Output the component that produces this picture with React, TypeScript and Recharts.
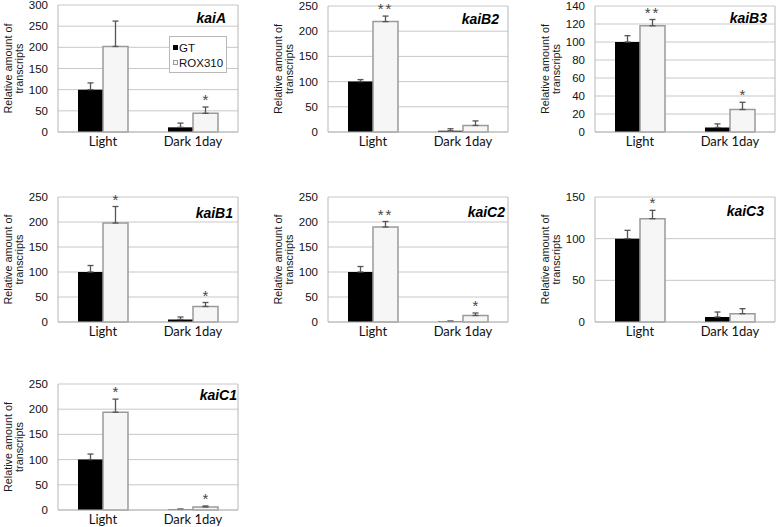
import React from "react";
import { BarChart, Bar, XAxis, YAxis, CartesianGrid, ErrorBar, LabelList } from "recharts";

// ---------- data ----------
const categories = ["Light", "Dark 1day"];
const genes = ["kaiA", "kaiB2", "kaiB3", "kaiB1", "kaiC2", "kaiC3", "kaiC1"];
const seriesNames = ["GT", "ROX310"];
const gtValues = [[100, 11], [100, 2.5], [100, 5], [100, 5], [100, 1], [100, 6], [100, 1]];
const gtErrors = [[16, 10], [4, 4], [7, 4], [13, 5], [11, 1], [10, 6], [11, 1]];
const roxValues = [[202, 44], [219, 13], [118, 25], [198, 31], [190, 13], [124, 10], [194, 6]];
const roxErrors = [[60, 15], [11, 9], [7, 8], [33, 8], [11, 5], [10, 6], [26, 2]];
const roxMarks = [["", "*"], ["**", ""], ["**", "*"], ["*", "*"], ["**", "*"], ["*", ""], ["*", "*"]];
const yTicks = [
  [0, 50, 100, 150, 200, 250, 300],
  [0, 50, 100, 150, 200, 250],
  [0, 20, 40, 60, 80, 100, 120, 140],
  [0, 50, 100, 150, 200, 250],
  [0, 50, 100, 150, 200, 250],
  [0, 50, 100, 150],
  [0, 50, 100, 150, 200, 250],
];
const yAxisLabel = ["Relative amount of", "transcripts"];

// ---------- layout ----------
const layout = [
  { left: 58, top: 5, h: 127, tx: 12, ty: 13 },
  { left: 328, top: 6, h: 126, tx: 9, ty: 13 },
  { left: 595, top: 6, h: 126, tx: 8, ty: 12 },
  { left: 58, top: 197, h: 125, tx: 5, ty: 16 },
  { left: 328, top: 197, h: 125, tx: 3, ty: 15 },
  { left: 595, top: 197, h: 125, tx: 11, ty: 14 },
  { left: 58, top: 384, h: 126, tx: 1, ty: 11 },
];
const PLOT_W = 180;
const AXIS_W = 58;
const GRID = "#c8c8c8";
const AXIS = "#b8b8b8";
const ERR = "#555";
const SANS = "'Liberation Sans', Arial, sans-serif";

function YLabel(props: any) {
  const vb = props.viewBox || {};
  const cy = vb.y + vb.height / 2;
  const right = vb.x + vb.width;
  const xs = [right - 50, right - 39];
  return (
    <g>
      {yAxisLabel.map((t, k) => (
        <text
          key={k}
          x={xs[k]}
          y={cy}
          transform={`rotate(-90, ${xs[k]}, ${cy})`}
          textAnchor="middle"
          dominantBaseline="central"
          fontFamily={SANS}
          fontSize={10.8}
          fill="#1a1a1a"
        >
          {t}
        </text>
      ))}
    </g>
  );
}

function Panel({ i }: { i: number }) {
  const L = layout[i];
  const data = categories.map((c, j) => ({
    category: c,
    gt: gtValues[i][j],
    gtErr: [0, gtErrors[i][j]],
    rox: roxValues[i][j],
    roxErr: [0, roxErrors[i][j]],
    mark: roxMarks[i][j],
  }));
  const ticks = yTicks[i];
  const yMax = ticks[ticks.length - 1];

  const renderStar = (p: any) => {
    const { x, y, width, height, value, index } = p;
    if (!value) return null;
    const d = data[index];
    const errPx = (roxErrors[i][index] / d.rox) * Number(height);
    const cx = Number(x) + Number(width) / 2;
    const top = Number(y) - errPx;
    return (
      <text
        x={cx}
        y={top - 2}
        textAnchor="middle"
        fontFamily={SANS}
        fontSize={15}
        letterSpacing={value.length > 1 ? 2 : 0}
        fill="#444"
      >
        {value}
      </text>
    );
  };

  const chartW = AXIS_W + PLOT_W + 2;
  const chartH = 5 + L.h + 25;

  return (
    <div style={{ position: "absolute", left: L.left - AXIS_W, top: L.top - 5, width: chartW, height: chartH }}>
      <BarChart
        width={chartW}
        height={chartH}
        data={data}
        margin={{ top: 5, right: 1, left: 0, bottom: 0 }}
        barGap={0}
        barSize={25}
      >
        <CartesianGrid vertical={false} stroke={GRID} />
        <XAxis
          dataKey="category"
          tickLine={false}
          axisLine={{ stroke: AXIS }}
          height={25}
          tickSize={3}
          tickMargin={1.5}
          tick={{ fontFamily: "Lato, 'Open Sans', sans-serif", fontSize: 13, fill: "#111" }}
        />
        <YAxis
          type="number"
          domain={[0, yMax]}
          ticks={ticks}
          interval={0}
          tickLine={false}
          axisLine={{ stroke: AXIS }}
          width={AXIS_W}
          tickMargin={4}
          tick={{ fontFamily: SANS, fontSize: 11.5, fill: "#111" }}
          label={{ content: (p: any) => <YLabel {...p} /> }}
        />
        <YAxis
          yAxisId="right"
          orientation="right"
          type="number"
          domain={[0, yMax]}
          width={1}
          tick={false}
          tickLine={false}
          axisLine={{ stroke: AXIS }}
        />
        <Bar dataKey="gt" name={seriesNames[0]} fill="#000" isAnimationActive={false}>
          <ErrorBar dataKey="gtErr" width={3} stroke={ERR} strokeWidth={1.3} />
        </Bar>
        <Bar dataKey="rox" name={seriesNames[1]} fill="#f6f6f6" stroke="#9a9a9a" strokeWidth={1.5} isAnimationActive={false}>
          <ErrorBar dataKey="roxErr" width={3} stroke={ERR} strokeWidth={1.3} />
          <LabelList dataKey="mark" content={renderStar} />
        </Bar>
      </BarChart>
      <div
        style={{
          position: "absolute",
          right: 2 + L.tx,
          top: 5 + L.ty - 9,
          fontFamily: SANS,
          fontWeight: "bold",
          fontStyle: "italic",
          fontSize: 14,
          lineHeight: "18px",
          color: "#000",
        }}
      >
        {genes[i]}
      </div>
      {i === 0 && (
        <div
          style={{
            position: "absolute",
            left: 169,
            top: 36,
            width: 58,
            height: 37,
            border: `1px solid ${AXIS}`,
            background: "#fff",
            boxSizing: "border-box",
            fontFamily: SANS,
            fontSize: 11.5,
            color: "#111",
            padding: "3px 0 0 3px",
          }}
        >
          {seriesNames.map((n, k) => (
            <div key={n} style={{ display: "flex", alignItems: "center", height: 15 }}>
              <span
                style={{
                  display: "inline-block",
                  width: 5,
                  height: 5,
                  marginRight: 1,
                  background: k === 0 ? "#000" : "#f6f6f6",
                  border: k === 0 ? "none" : "1px solid #9a9a9a",
                  boxSizing: "border-box",
                }}
              />
              {n}
            </div>
          ))}
        </div>
      )}
    </div>
  );
}

export default function App() {
  return (
    <div style={{ position: "absolute", left: 0, top: 0, width: 777, height: 527, background: "#fff", overflow: "hidden" }}>
      {genes.map((g, i) => (
        <Panel key={g} i={i} />
      ))}
    </div>
  );
}
